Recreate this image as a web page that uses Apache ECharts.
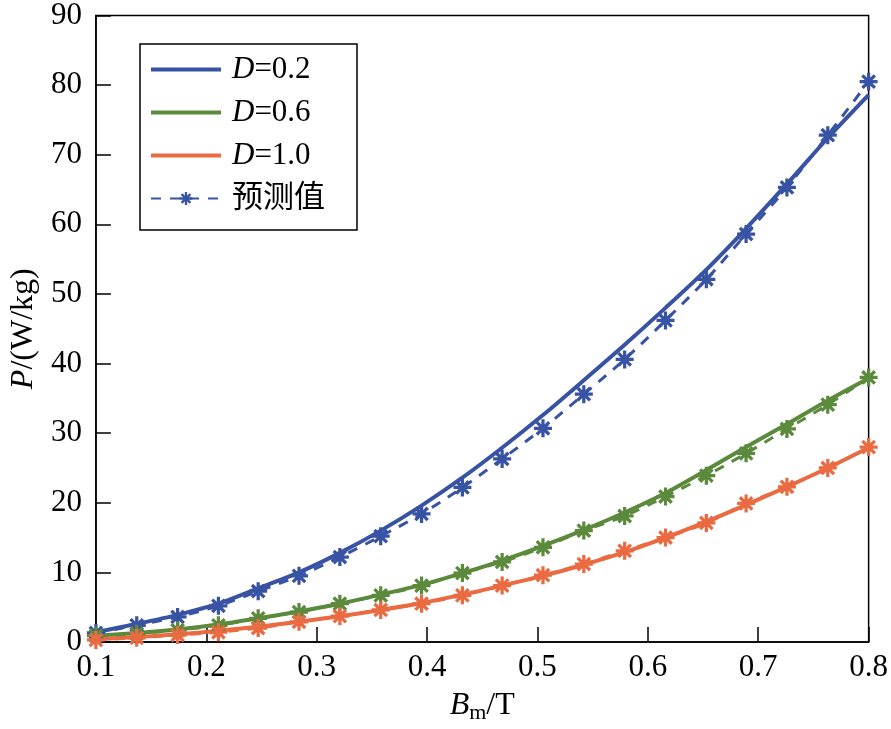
<!DOCTYPE html>
<html>
<head>
<meta charset="utf-8">
<script src="https://cdn.jsdelivr.net/npm/echarts@6/dist/echarts.min.js"></script>
<style>html,body{margin:0;padding:0;background:#fff;}#c{width:891px;height:729px;}</style>
</head>
<body>
<div id="c"></div>
<script>
var xVals = [0.1, 0.137, 0.174, 0.211, 0.247, 0.284, 0.321, 0.358, 0.395, 0.432, 0.468, 0.505, 0.542, 0.579, 0.616, 0.653, 0.689, 0.726, 0.763, 0.8];
var blueSolid = [1.4, 2.6, 3.9, 5.5, 7.7, 10.0, 12.8, 16.0, 19.6, 23.6, 27.9, 32.6, 37.6, 42.7, 48.0, 53.5, 59.4, 65.8, 72.4, 78.6];
var bluePred = [1.3, 2.4, 3.6, 5.2, 7.3, 9.5, 12.2, 15.2, 18.4, 22.2, 26.3, 30.7, 35.6, 40.6, 46.2, 52.1, 58.6, 65.3, 72.8, 80.5];
var greenSolid = [0.9, 1.3, 1.8, 2.5, 3.4, 4.4, 5.5, 6.8, 8.2, 9.9, 11.7, 13.8, 16.1, 18.6, 21.4, 24.7, 28.0, 31.3, 34.7, 37.9];
var greenPred = [0.9, 1.2, 1.7, 2.4, 3.4, 4.3, 5.5, 6.7, 8.1, 9.9, 11.5, 13.6, 16.0, 18.1, 20.9, 23.9, 27.1, 30.6, 34.1, 38.0];
var orangeSolid = [0.4, 0.7, 1.1, 1.6, 2.2, 2.9, 3.7, 4.6, 5.6, 6.8, 8.1, 9.5, 11.1, 12.9, 15.0, 17.3, 19.7, 22.3, 25.0, 27.9];
var orangePred = [0.3, 0.6, 1.0, 1.4, 2.0, 2.9, 3.7, 4.6, 5.5, 6.7, 8.1, 9.6, 11.2, 13.1, 15.0, 17.1, 19.9, 22.3, 25.0, 28.0];
var seriesNames = ['D=0.2', 'D=0.6', 'D=1.0', '预测值'];
var legendLabels = {'D=0.2': '{i|D}=0.2', 'D=0.6': '{i|D}=0.6', 'D=1.0': '{i|D}=1.0', '预测值': '预测值'};

var BLUE = '#3953a4', GREEN = '#5b8a3c', ORANGE = '#ea6a42';
var FONT = "'Liberation Serif', 'Noto Sans CJK SC', serif";
var STAR = 'path://M8.2 0H11.8V20H8.2Z M0 8.2H20V11.8H0Z M1.8 4.4L4.4 1.8L18.2 15.6L15.6 18.2Z M15.6 1.8L18.2 4.4L4.4 18.2L1.8 15.6Z';
var LINE_ICON = 'path://M0 0L0.01 0L0 0.01Z M0 16L0.01 16L0 15.99Z M0 6H70V10H0Z';

function pairs(ys) { return xVals.map(function (x, i) { return [x, ys[i]]; }); }

function solid(name, color, ys) {
  return { name: name, type: 'line', data: pairs(ys), smooth: 0.3, symbol: 'none', z: 2,
    lineStyle: { color: color, width: 4 }, itemStyle: { color: color } };
}
function pred(name, color, ys) {
  return { name: name, type: 'line', data: pairs(ys), smooth: 0.3, symbol: STAR, symbolSize: 18,
    showSymbol: true, clip: false, z: 3,
    lineStyle: { color: color, width: 3, type: [10, 9] }, itemStyle: { color: color } };
}

var legendData = seriesNames.map(function (n, i) {
  return i < 3 ? { name: n, icon: LINE_ICON } : { name: n };
});

var chart = echarts.init(document.getElementById('c'), null, { renderer: 'canvas' });
chart.setOption({
  animation: false,
  backgroundColor: '#fff',
  grid: { left: 92, right: 22, top: 12, bottom: 87, show: true, borderColor: '#000', borderWidth: 1.5, backgroundColor: 'transparent' },
  legend: {
    data: legendData,
    orient: 'vertical', left: 140, top: 44,
    itemWidth: 70, itemHeight: 16, itemGap: 12,
    padding: [10, 32, 16, 10],
    borderColor: '#000', borderWidth: 1.5, backgroundColor: '#fff',
    formatter: function (n) { return legendLabels[n]; },
    textStyle: { fontFamily: FONT, fontSize: 31, color: '#000', lineHeight: 30, padding: [0, 0, 0, 6],
      rich: { i: { fontFamily: FONT, fontSize: 31, fontStyle: 'italic', color: '#000' } } }
  },
  xAxis: {
    type: 'value', min: 0.1, max: 0.8, interval: 0.1,
    name: '{i|B}{s|m}/T', nameLocation: 'middle', nameGap: 46,
    nameTextStyle: { fontFamily: FONT, fontSize: 32, color: '#000',
      rich: { i: { fontFamily: FONT, fontSize: 32, fontStyle: 'italic', color: '#000' },
              s: { fontFamily: FONT, fontSize: 22, color: '#000', padding: [14, 0, 0, 0] } } },
    axisLine: { lineStyle: { color: '#000', width: 1.5 } },
    axisTick: { inside: true, length: 15, lineStyle: { color: '#000', width: 1.5 } },
    axisLabel: { margin: 10, fontFamily: FONT, fontSize: 31, color: '#000',
      formatter: function (v) { return v.toFixed(1); } },
    splitLine: { show: false }
  },
  yAxis: {
    type: 'value', min: 0, max: 90, interval: 10,
    name: '{i|P}/(W/kg)', nameLocation: 'middle', nameGap: 54,
    nameTextStyle: { fontFamily: FONT, fontSize: 32, color: '#000',
      rich: { i: { fontFamily: FONT, fontSize: 32, fontStyle: 'italic', color: '#000' } } },
    axisLine: { lineStyle: { color: '#000', width: 1.5 } },
    axisTick: { inside: true, length: 15, lineStyle: { color: '#000', width: 1.5 } },
    axisLabel: { margin: 14, fontFamily: FONT, fontSize: 31, color: '#000' },
    splitLine: { show: false }
  },
  series: [
    solid('D=0.2', BLUE, blueSolid),
    solid('D=0.6', GREEN, greenSolid),
    solid('D=1.0', ORANGE, orangeSolid),
    pred('预测值', BLUE, bluePred),
    pred('预测值 D=0.6', GREEN, greenPred),
    pred('预测值 D=1.0', ORANGE, orangePred)
  ]
});
</script>
</body>
</html>
